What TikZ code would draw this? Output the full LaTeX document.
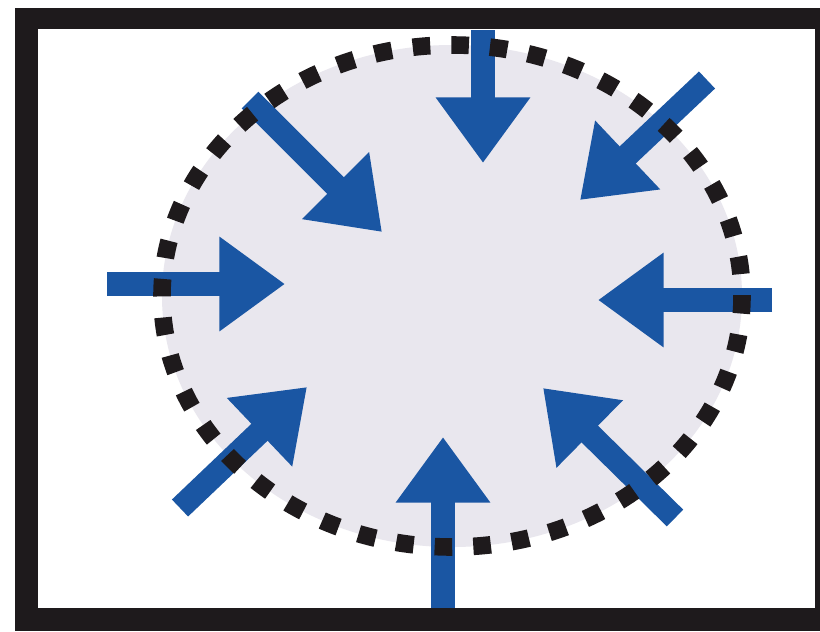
\documentclass[tikz,border=0pt]{standalone}
\usepackage{tikz}
\usetikzlibrary{arrows.meta,shapes.geometric}

\definecolor{blufreccia}{RGB}{26,86,163}
\definecolor{grigiozona}{RGB}{233,231,238}
\definecolor{nerocornice}{RGB}{30,26,28}

\begin{document}
\begin{tikzpicture}[x=0.03cm, y=-0.03cm]
        % Stili
        \tikzstyle{zona} = [ellipse, fill=grigiozona, inner sep=0pt, minimum width=17.4cm, minimum height=15.06cm]
        \tikzstyle{freccia} = [draw=blufreccia, line width=20pt, -{Triangle[length=56pt, width=77pt]}, blufreccia]
        \tikzstyle{puntini} = [draw=nerocornice, line width=15pt, dash pattern=on 15pt off 18pt]

        \useasboundingbox (0,0) rectangle (820,631);

        % Cornice
        \fill [nerocornice] (15,8) rectangle (820,631);
        \fill [white] (38,29) rectangle (815,608);

        % Zona
        \node [zona] (zona) at (452,296) {};

        % Punti
        \coordinate (nA) at (483,30);   \coordinate (nB) at (483,163);
        \coordinate (neA) at (707,80);  \coordinate (neB) at (580,200);
        \coordinate (noA) at (250,100); \coordinate (noB) at (382,232);
        \coordinate (oA) at (107,284);  \coordinate (oB) at (285,284);
        \coordinate (eA) at (772,300);  \coordinate (eB) at (598,300);
        \coordinate (soA) at (180,508); \coordinate (soB) at (307,387);
        \coordinate (sA) at (443,608);  \coordinate (sB) at (443,437);
        \coordinate (seA) at (675,518); \coordinate (seB) at (543,388);

        % Frecce
        \draw [freccia] (nA) -- (nB);
        \draw [freccia] (neA) -- (neB);
        \draw [freccia] (noA) -- (noB);
        \draw [freccia] (oA) -- (oB);
        \draw [freccia] (eA) -- (eB);
        \draw [freccia] (soA) -- (soB);
        \draw [freccia] (sA) -- (sB);
        \draw [freccia] (seA) -- (seB);

        % Bordo
        \draw [puntini] (zona.center) ellipse [x radius=290, y radius=251];

    \end{tikzpicture}
\end{document}
